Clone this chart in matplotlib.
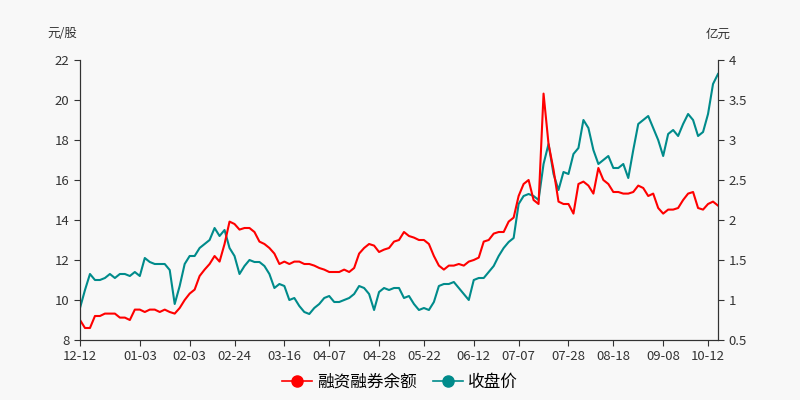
import matplotlib
matplotlib.use("Agg")
import matplotlib.pyplot as plt
from matplotlib.lines import Line2D

plt.rcParams['font.family'] = ['Noto Sans CJK SC', 'DejaVu Sans']

tick_positions = [0, 12, 22, 31, 41, 50, 60, 69, 79, 88, 98, 107, 117, 126]
tick_labels = ["12-12", "01-03", "02-03", "02-24", "03-16", "04-07", "04-28",
               "05-22", "06-12", "07-07", "07-28", "08-18", "09-08", "10-12"]

# 收盘价 (元/股)
close_price = [
    9.6, 10.5, 11.3, 11.0, 11.0, 11.1, 11.3, 11.1, 11.3, 11.3, 11.2, 11.4, 11.2, 12.1, 11.9, 11.8,
    11.8, 11.8, 11.5, 9.8, 10.7, 11.8, 12.2, 12.2, 12.6, 12.8, 13.0, 13.6, 13.2, 13.5, 12.6, 12.2,
    11.3, 11.7, 12.0, 11.9, 11.9, 11.7, 11.3, 10.6, 10.8, 10.7, 10.0, 10.1, 9.7, 9.4, 9.3, 9.6,
    9.8, 10.1, 10.2, 9.9, 9.9, 10.0, 10.1, 10.3, 10.7, 10.6, 10.3, 9.5, 10.4, 10.6, 10.5, 10.6,
    10.6, 10.1, 10.2, 9.8, 9.5, 9.6, 9.5, 9.9, 10.7, 10.8, 10.8, 10.9, 10.6, 10.3, 10.0, 11.0,
    11.1, 11.1, 11.4, 11.7, 12.2, 12.6, 12.9, 13.1, 14.8, 15.2, 15.3, 15.2, 15.0, 16.8, 17.8, 16.3,
    15.5, 16.4, 16.3, 17.3, 17.6, 19.0, 18.6, 17.5, 16.8, 17.0, 17.2, 16.6, 16.6, 16.8, 16.1, 17.5,
    18.8, 19.0, 19.2, 18.6, 18.0, 17.2, 18.3, 18.5, 18.2, 18.8, 19.3, 19.0, 18.2, 18.4, 19.3, 20.8,
    21.3,
]

# 融资融券余额 (亿元)
margin_balance = [
    0.75, 0.65, 0.65, 0.80, 0.80, 0.83, 0.83, 0.83, 0.78, 0.78, 0.75, 0.88, 0.88, 0.85, 0.88, 0.88,
    0.85, 0.88, 0.85, 0.83, 0.90, 1.00, 1.08, 1.13, 1.30, 1.38, 1.45, 1.55, 1.48, 1.70, 1.98, 1.95,
    1.88, 1.90, 1.90, 1.85, 1.73, 1.70, 1.65, 1.58, 1.45, 1.48, 1.45, 1.48, 1.48, 1.45, 1.45, 1.43,
    1.40, 1.38, 1.35, 1.35, 1.35, 1.38, 1.35, 1.40, 1.58, 1.65, 1.70, 1.68, 1.60, 1.63, 1.65, 1.73,
    1.75, 1.85, 1.80, 1.78, 1.75, 1.75, 1.70, 1.55, 1.43, 1.38, 1.43, 1.43, 1.45, 1.43, 1.48, 1.50,
    1.53, 1.73, 1.75, 1.83, 1.85, 1.85, 1.98, 2.03, 2.30, 2.45, 2.50, 2.25, 2.20, 3.58, 2.95, 2.63,
    2.23, 2.20, 2.20, 2.08, 2.45, 2.48, 2.43, 2.33, 2.65, 2.50, 2.45, 2.35, 2.35, 2.33, 2.33, 2.35,
    2.43, 2.40, 2.30, 2.33, 2.15, 2.08, 2.13, 2.13, 2.15, 2.25, 2.33, 2.35, 2.15, 2.13, 2.20, 2.23,
    2.18,
]

bg = "#f8f8f8"
red = "#ff0000"
teal = "#008b8b"

fig = plt.figure(figsize=(8, 4), dpi=100, facecolor=bg)
ax = fig.add_axes([0.1, 0.15, 0.7975, 0.7], facecolor=bg)
ax2 = ax.twinx()

x = list(range(len(close_price)))
ax.plot(x, close_price, color=teal, lw=1.5)
ax2.plot(x, margin_balance, color=red, lw=1.5)

ax.set_xlim(0, len(close_price) - 1)
ax.set_ylim(8, 22)
ax.set_yticks(range(8, 23, 2))
ax2.set_ylim(0.5, 4)
ax2.set_yticks([0.5, 1, 1.5, 2, 2.5, 3, 3.5, 4])
ax2.set_yticklabels(["0.5", "1", "1.5", "2", "2.5", "3", "3.5", "4"])
ax.set_xticks(tick_positions)
ax.set_xticklabels(tick_labels)

for a in (ax, ax2):
    a.spines['top'].set_visible(False)
    for s in ('left', 'right', 'bottom'):
        a.spines[s].set_color("#333333")
    a.tick_params(colors="#333333", labelsize=9.5, length=4)

ax.text(-0.005, 1.07, "元/股", transform=ax.transAxes, ha='right', va='bottom', fontsize=9, color="#333333")
ax2.text(1.0, 1.07, "亿元", transform=ax.transAxes, ha='center', va='bottom', fontsize=9, color="#333333")

handles = [
    Line2D([], [], color=red, marker='o', markersize=8, lw=1.2),
    Line2D([], [], color=teal, marker='o', markersize=8, lw=1.2),
]
fig.legend(handles, ["融资融券余额", "收盘价"], loc='lower center', ncol=2, frameon=False,
           fontsize=12, bbox_to_anchor=(0.5, -0.015), handlelength=1.8, columnspacing=1.0,
           handletextpad=0.3)

fig.savefig("out.png", dpi=100, facecolor=bg)
